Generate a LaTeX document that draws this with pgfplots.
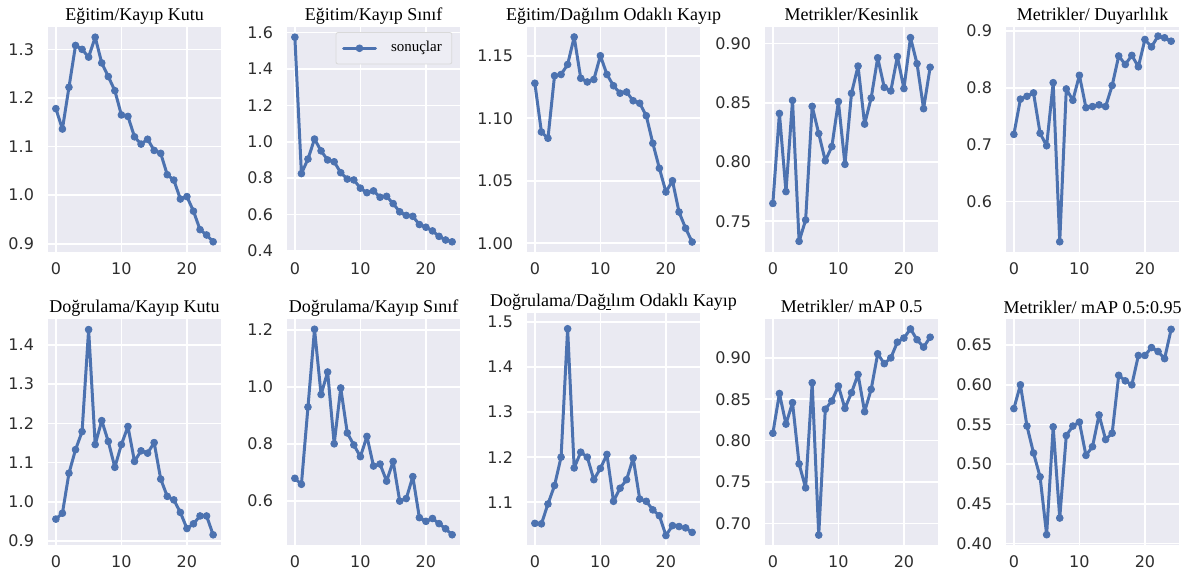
\documentclass[border=0pt]{standalone}
\usepackage{fontspec}
\setmainfont{Liberation Serif}
\newfontfamily\dejavu{DejaVu Sans}
\usepackage{pgfplots}
\pgfplotsset{compat=1.18}
\definecolor{sbbg}{HTML}{EAEAF2}
\definecolor{sbblue}{HTML}{4C72B0}
\definecolor{sbtick}{HTML}{2E2E2E}
\pgfplotsset{sb/.style={
  scale only axis, width=86.5pt, height=112.5pt, anchor=south west,
  axis background/.style={fill=sbbg},
  axis line style={draw=none},
  major tick length=0pt,
  grid=major, major grid style={white, line width=0.8pt},
  xmin=-1.2, xmax=25.2, xtick={0,10,20},
  tick label style={font=\dejavu\fontsize{8}{9}\selectfont, text=sbtick},
  /pgf/number format/assume math mode=true,
  xticklabel style={yshift=-2pt}, yticklabel style={xshift=-3.5pt},
  every axis title shift=0pt,
  title style={at={(0.5,1)}, anchor=base, yshift=3pt, inner sep=0pt, font=\fontsize{9}{10}\selectfont},
  every axis plot post/.append style={sbblue, line width=1.5pt, line join=round, line cap=round, mark=*, mark size=1.7pt, mark options={solid, fill=sbblue, draw=sbblue, line width=0.4pt}},
}, p1/.style={yticklabel style={/pgf/number format/.cd,fixed,fixed zerofill,precision=1}},
   p2/.style={yticklabel style={/pgf/number format/.cd,fixed,fixed zerofill,precision=2}}}
\begin{document}
\begin{tikzpicture}
\path[use as bounding box] (0,0) rectangle (592pt,289pt);
% Row 1
\begin{axis}[sb,p1,at={(24pt,163pt)},title={Eğitim/Kayıp Kutu},ymin=0.883,ymax=1.346,ytick={0.9,1.0,1.1,1.2,1.3}]
\addplot coordinates {(0,1.178)(1,1.136)(2,1.222)(3,1.308)(4,1.300)(5,1.284)(6,1.325)(7,1.272)(8,1.244)(9,1.215)(10,1.165)(11,1.162)(12,1.120)(13,1.105)(14,1.115)(15,1.092)(16,1.086)(17,1.042)(18,1.031)(19,0.992)(20,0.997)(21,0.967)(22,0.929)(23,0.918)(24,0.904)};
\end{axis}
\begin{axis}[sb,p1,at={(143.5pt,163pt)},title={Eğitim/Kayıp Sınıf},ymin=0.394,ymax=1.631,ytick={0.4,0.6,0.8,1.0,1.2,1.4,1.6},
  legend style={at={(0.955,0.977)},anchor=north east,fill=sbbg!85!white,draw=gray!30,font=\fontsize{7.5}{9}\selectfont,inner xsep=3pt,inner ysep=2.5pt,rounded corners=1pt},
  legend image code/.code={\draw[mark repeat=2,mark phase=2] plot coordinates {(0pt,0pt) (8pt,0pt) (16pt,0pt)};}]
\addplot coordinates {(0,1.575)(1,0.825)(2,0.905)(3,1.015)(4,0.950)(5,0.900)(6,0.890)(7,0.830)(8,0.795)(9,0.790)(10,0.745)(11,0.720)(12,0.730)(13,0.695)(14,0.700)(15,0.660)(16,0.615)(17,0.595)(18,0.590)(19,0.545)(20,0.530)(21,0.510)(22,0.480)(23,0.460)(24,0.450)};
\addlegendentry{\hspace{5pt}sonuçlar}
\end{axis}
\begin{axis}[sb,p2,at={(263.5pt,163pt)},title={Eğitim/Dağılım Odaklı Kayıp},ymin=0.993,ymax=1.173,ytick={1.00,1.05,1.10,1.15}]
\addplot coordinates {(0,1.128)(1,1.089)(2,1.084)(3,1.134)(4,1.135)(5,1.143)(6,1.165)(7,1.132)(8,1.129)(9,1.131)(10,1.150)(11,1.135)(12,1.126)(13,1.120)(14,1.121)(15,1.114)(16,1.112)(17,1.102)(18,1.080)(19,1.060)(20,1.041)(21,1.050)(22,1.025)(23,1.012)(24,1.001)};
\end{axis}
\begin{axis}[sb,p2,at={(382.5pt,163pt)},title={Metrikler/Kesinlik},ymin=0.724,ymax=0.914,ytick={0.75,0.80,0.85,0.90}]
\addplot coordinates {(0,0.765)(1,0.841)(2,0.775)(3,0.852)(4,0.733)(5,0.751)(6,0.847)(7,0.824)(8,0.801)(9,0.813)(10,0.851)(11,0.798)(12,0.858)(13,0.881)(14,0.832)(15,0.854)(16,0.888)(17,0.863)(18,0.860)(19,0.889)(20,0.862)(21,0.905)(22,0.883)(23,0.845)(24,0.880)};
\end{axis}
\begin{axis}[sb,p1,at={(503pt,163pt)},title={Metrikler/ Duyarlılık},ymin=0.511,ymax=0.907,ytick={0.6,0.7,0.8,0.9}]
\addplot coordinates {(0,0.718)(1,0.780)(2,0.785)(3,0.791)(4,0.720)(5,0.698)(6,0.809)(7,0.529)(8,0.798)(9,0.778)(10,0.822)(11,0.765)(12,0.767)(13,0.770)(14,0.767)(15,0.804)(16,0.856)(17,0.841)(18,0.857)(19,0.837)(20,0.885)(21,0.872)(22,0.891)(23,0.888)(24,0.882)};
\end{axis}
% Row 2
\begin{axis}[sb,p1,at={(24pt,16.5pt)},height=113pt,title={Doğrulama/Kayıp Kutu},ymin=0.890,ymax=1.466,ytick={0.9,1.0,1.1,1.2,1.3,1.4}]
\addplot coordinates {(0,0.956)(1,0.971)(2,1.073)(3,1.133)(4,1.179)(5,1.439)(6,1.146)(7,1.207)(8,1.154)(9,1.088)(10,1.146)(11,1.192)(12,1.103)(13,1.130)(14,1.124)(15,1.151)(16,1.058)(17,1.014)(18,1.005)(19,0.973)(20,0.932)(21,0.944)(22,0.964)(23,0.964)(24,0.916)};
\end{axis}
\begin{axis}[sb,p1,at={(143.5pt,16.5pt)},height=113pt,title={Doğrulama/Kayıp Sınıf},ymin=0.445,ymax=1.238,ytick={0.6,0.8,1.0,1.2}]
\addplot coordinates {(0,0.679)(1,0.658)(2,0.929)(3,1.202)(4,0.973)(5,1.052)(6,0.800)(7,0.996)(8,0.838)(9,0.796)(10,0.755)(11,0.826)(12,0.722)(13,0.729)(14,0.669)(15,0.738)(16,0.599)(17,0.608)(18,0.685)(19,0.541)(20,0.528)(21,0.538)(22,0.520)(23,0.502)(24,0.481)};
\end{axis}
\begin{axis}[sb,p1,at={(263.5pt,16.5pt)},height=116pt,title={Doğrulama/Dağ\underline{ı}lım Odaklı Kayıp},ymin=1.005,ymax=1.52,ytick={1.1,1.2,1.3,1.4,1.5}]
\addplot coordinates {(0,1.053)(1,1.052)(2,1.096)(3,1.137)(4,1.200)(5,1.485)(6,1.176)(7,1.211)(8,1.200)(9,1.150)(10,1.175)(11,1.206)(12,1.102)(13,1.131)(14,1.150)(15,1.198)(16,1.107)(17,1.102)(18,1.083)(19,1.070)(20,1.026)(21,1.048)(22,1.046)(23,1.043)(24,1.033)};
\end{axis}
\begin{axis}[sb,p2,at={(382.5pt,16.5pt)},height=113pt,title={Metrikler/ mAP 0.5},ymin=0.674,ymax=0.947,ytick={0.70,0.75,0.80,0.85,0.90}]
\addplot coordinates {(0,0.809)(1,0.857)(2,0.820)(3,0.846)(4,0.772)(5,0.743)(6,0.870)(7,0.686)(8,0.838)(9,0.848)(10,0.866)(11,0.839)(12,0.858)(13,0.880)(14,0.835)(15,0.862)(16,0.905)(17,0.893)(18,0.900)(19,0.919)(20,0.924)(21,0.935)(22,0.922)(23,0.913)(24,0.925)};
\end{axis}
\begin{axis}[sb,p2,at={(503pt,16.5pt)},height=113pt,title={Metrikler/ mAP 0.5:0.95},ymin=0.398,ymax=0.683,ytick={0.40,0.45,0.50,0.55,0.60,0.65}]
\addplot coordinates {(0,0.570)(1,0.600)(2,0.548)(3,0.514)(4,0.484)(5,0.411)(6,0.547)(7,0.432)(8,0.536)(9,0.548)(10,0.553)(11,0.511)(12,0.522)(13,0.562)(14,0.531)(15,0.539)(16,0.612)(17,0.605)(18,0.600)(19,0.637)(20,0.637)(21,0.647)(22,0.642)(23,0.633)(24,0.670)};
\end{axis}
\end{tikzpicture}
\end{document}
